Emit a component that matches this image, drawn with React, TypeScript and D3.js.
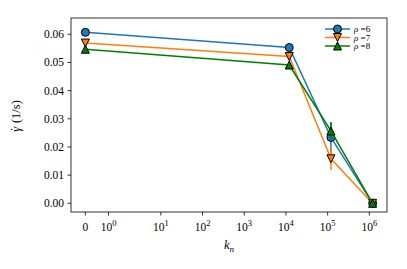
import React, { useEffect, useRef } from "react";
import * as d3 from "d3";

// x positions (k_n) and shear rate values per rho
const kn = [0, 1.2e4, 1.2e5, 1.2e6];
const rho6 = [0.0607, 0.0553, 0.0234, 0.0];
const rho7 = [0.0569, 0.0521, 0.0158, 0.0];
const rho8 = [0.0547, 0.0491, 0.0257, 0.0];
const err6 = [0.0003, 0.0003, 0.0055, 0.0002];
const err7 = [0.0003, 0.0003, 0.004, 0.0002];
const err8 = [0.0003, 0.0003, 0.003, 0.0002];
const seriesNames = ["6", "7", "8"];
const yTicks = [0, 0.01, 0.02, 0.03, 0.04, 0.05, 0.06];
const xTickExps = [0, 1, 2, 3, 4, 5, 6];

const W = 407;
const H = 269;
const margin = { top: 18, right: 20, bottom: 57, left: 71 };

// matplotlib style symlog, linthresh 2, linscale 1
const LT = 2;
const LS = 1 / (1 - 1 / 10);
function symlog(v) {
  const a = Math.abs(v);
  if (a <= LT) return v * LS;
  return Math.sign(v) * LT * (LS + Math.log10(a / LT));
}

const FONT = '"Liberation Serif", "DejaVu Serif", serif';

const App = () => {
  const svgEl = useRef(null);

  useEffect(() => {
    if (!svgEl.current) return;
    drawChartOn(svgEl.current);
  }, [svgEl]);

  return (
    <svg
      ref={svgEl}
      width={W}
      height={H}
      style={{ position: "absolute", left: 0, top: 0, background: "#fff", fontFamily: FONT }}
    ></svg>
  );
};

function drawChartOn(svgEl) {
  const svg = d3.select(svgEl);
  svg.selectAll("*").remove();

  const x0 = margin.left;
  const x1 = W - margin.right;
  const y0 = H - margin.bottom;
  const y1 = margin.top;

  const tMax = symlog(kn[kn.length - 1]);
  const pad = tMax * 0.05;
  const tScale = d3.scaleLinear().domain([-pad, tMax + pad]).range([x0, x1]);
  const xScale = (v) => tScale(symlog(v));
  const yScale = d3.scaleLinear().domain([-0.00309, 0.06579]).range([y0, y1]);

  // y axis ticks
  const yAxis = svg.append("g");
  yTicks.forEach((t) => {
    const py = yScale(t);
    yAxis
      .append("line")
      .attr("x1", x0 - 3.5)
      .attr("x2", x0)
      .attr("y1", py)
      .attr("y2", py)
      .attr("stroke", "#000")
      .attr("stroke-width", 0.8);
    yAxis
      .append("text")
      .attr("x", x0 - 7)
      .attr("y", py)
      .attr("dy", "0.35em")
      .attr("text-anchor", "end")
      .style("font-family", FONT)
      .style("font-size", "11.5px")
      .text(d3.format(".2f")(t));
  });

  // x axis ticks
  const xAxis = svg.append("g");
  const xTickVals = [0].concat(xTickExps.map((e) => Math.pow(10, e)));
  xTickVals.forEach((v, i) => {
    const px = xScale(v);
    xAxis
      .append("line")
      .attr("x1", px)
      .attr("x2", px)
      .attr("y1", y0)
      .attr("y2", y0 + 3.5)
      .attr("stroke", "#000")
      .attr("stroke-width", 0.8);
    const txt = xAxis
      .append("text")
      .attr("x", px)
      .attr("y", y0 + 19)
      .attr("text-anchor", "middle")
      .style("font-family", FONT)
      .style("font-size", "11.5px");
    if (i === 0) {
      txt.text("0");
    } else {
      txt.append("tspan").text("10");
      txt
        .append("tspan")
        .attr("dy", -5)
        .style("font-size", "8.5px")
        .text(String(xTickExps[i - 1]));
    }
  });

  // axis labels
  const xl = svg
    .append("text")
    .attr("x", (x0 + x1) / 2)
    .attr("y", y0 + 37)
    .attr("text-anchor", "middle")
    .style("font-family", FONT)
    .style("font-size", "12.5px")
    .style("font-style", "italic");
  xl.append("tspan").text("k");
  xl.append("tspan").attr("dy", 2.5).style("font-size", "9px").text("n");

  // y label: gamma with a dot above, then the unit
  const yl = svg
    .append("text")
    .attr("transform", "translate(20," + ((y0 + y1) / 2 + 1) + ") rotate(-90)")
    .attr("text-anchor", "middle")
    .style("font-family", FONT)
    .style("font-size", "12.5px");
  yl.append("tspan").style("font-style", "italic").text("\u03b3");
  yl.append("tspan").attr("dx", -4.5).attr("dy", -1).text("\u02d9");
  yl.append("tspan").attr("dx", 1).attr("dy", 1).text("\u00a0(1/s)");

  const series = [
    { vals: rho6, errs: err6, color: "#1f77b4", marker: "circle" },
    { vals: rho7, errs: err7, color: "#ff7f0e", marker: "down" },
    { vals: rho8, errs: err8, color: "#008000", marker: "up" },
  ];

  const s = 8;
  function drawMarker(g, type, cx, cy, color) {
    if (type === "circle") {
      g.append("circle")
        .attr("cx", cx)
        .attr("cy", cy)
        .attr("r", s / 2)
        .attr("fill", color)
        .attr("stroke", "#000")
        .attr("stroke-width", 1);
    } else {
      const d = type === "down" ? 1 : -1;
      const pts = [
        [cx, cy + (d * s) / 2],
        [cx - s / 2, cy - (d * s) / 2],
        [cx + s / 2, cy - (d * s) / 2],
      ];
      g.append("path")
        .attr("d", d3.line()(pts) + "Z")
        .attr("fill", color)
        .attr("stroke", "#000")
        .attr("stroke-width", 1)
        .attr("stroke-linejoin", "miter");
    }
  }

  const plot = svg.append("g");
  const line = d3
    .line()
    .x((d, i) => xScale(kn[i]))
    .y((d) => yScale(d));

  series.forEach((sr) => {
    const g = plot.append("g");
    g.append("path")
      .datum(sr.vals)
      .attr("fill", "none")
      .attr("stroke", sr.color)
      .attr("stroke-width", 1.5)
      .attr("d", line);
    sr.vals.forEach((v, i) => {
      g.append("line")
        .attr("x1", xScale(kn[i]))
        .attr("x2", xScale(kn[i]))
        .attr("y1", yScale(v - sr.errs[i]))
        .attr("y2", yScale(v + sr.errs[i]))
        .attr("stroke", sr.color)
        .attr("stroke-width", 1.5);
    });
    sr.vals.forEach((v, i) => {
      drawMarker(g, sr.marker, xScale(kn[i]), yScale(v), sr.color);
    });
  });

  // legend
  const leg = svg.append("g");
  const lx = 325;
  series.forEach((sr, i) => {
    const ly = 29 + i * 8.5;
    leg
      .append("line")
      .attr("x1", lx)
      .attr("x2", lx + 25)
      .attr("y1", ly)
      .attr("y2", ly)
      .attr("stroke", sr.color)
      .attr("stroke-width", 1.5);
  });
  series.forEach((sr, i) => {
    const ly = 29 + i * 8.5;
    leg
      .append("line")
      .attr("x1", lx + 12.5)
      .attr("x2", lx + 12.5)
      .attr("y1", ly - 3)
      .attr("y2", ly + 3)
      .attr("stroke", sr.color)
      .attr("stroke-width", 1.5);
    drawMarker(leg, sr.marker, lx + 12.5, ly, sr.color);
    const t = leg
      .append("text")
      .attr("x", lx + 29)
      .attr("y", ly)
      .attr("dy", "0.35em")
      .style("font-family", FONT)
      .style("font-size", "9px");
    t.append("tspan").style("font-style", "italic").text("\u03c1");
    t.append("tspan").text("\u00a0=" + seriesNames[i]);
  });

  // frame
  svg
    .append("rect")
    .attr("x", x0)
    .attr("y", y1)
    .attr("width", x1 - x0)
    .attr("height", y0 - y1)
    .attr("fill", "none")
    .attr("stroke", "#000")
    .attr("stroke-width", 0.8);
}

export default App;
